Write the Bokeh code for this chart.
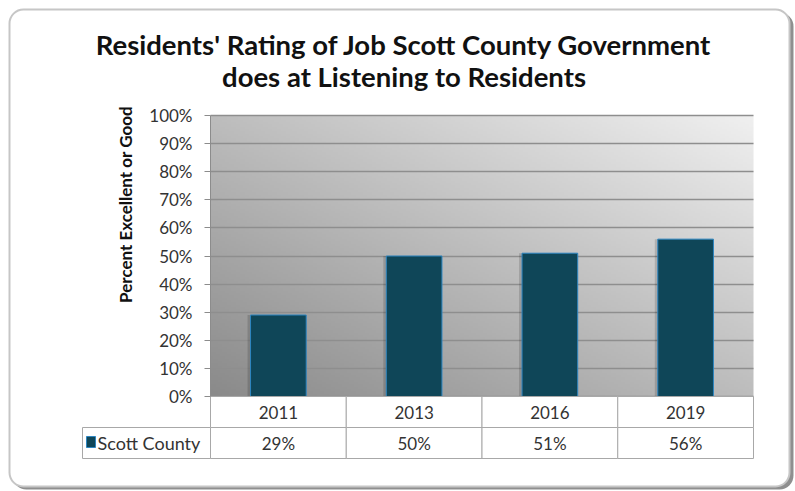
import numpy as np
from bokeh.plotting import figure
from bokeh.models import (Range1d, LinearAxis, Grid, FixedTicker, PrintfTickFormatter,
                          Label, BoxAnnotation, ColumnDataSource)
from bokeh.embed import file_html
from bokeh.resources import INLINE
from bokeh.core.properties import value

# ---- data ----
years = ["2011", "2013", "2016", "2019"]
values = [29, 50, 51, 56]
series_name = "Scott County"
title_lines = ["Residents' Rating of Job Scott County Government",
               "does at Listening to Residents"]
y_title = "Percent Excellent or Good"
y_ticks = list(range(0, 101, 10))

# ---- layout constants (page pixels -> data units) ----
W, H = 795, 491
PAGE0 = 0                      # page offset of the canvas (template has no margin)
X0, XPX = 210, 135.75          # page x of category slot 0, pixels per slot
Y0, YPX = 396, 2.81            # page y of 0 %, pixels per percent
def dx(px):                    # page x -> data x
    return (px - X0) / XPX
def dy(py):                    # page y -> data y
    return (Y0 - py) / YPX
ROW_H = 31 / YPX
BAR_FILL = "#0f4658"
BAR_LINE = "#2e86c1"
GRID = "#8e8e8e"
TABLE_LINE = "#a8a8a8"
TXT = "#333333"
FONT = "Lato"

p = figure(width=W, height=H,
           x_range=Range1d(dx(PAGE0), dx(PAGE0 + W)),
           y_range=Range1d(dy(PAGE0 + H), dy(PAGE0)),
           output_backend="svg", toolbar_location=None,
           x_axis_type=None, y_axis_type=None,
           min_border=0)
p.outline_line_color = None
p.background_fill_color = "white"
p.border_fill_color = "white"

# outer rounded chart border with shadow
p.add_layout(BoxAnnotation(left=dx(12), right=dx(793), top=dy(12), bottom=dy(489),
                           fill_color="#8f8f8f", fill_alpha=1, line_color=None,
                           border_radius=14, level="image"))
p.add_layout(BoxAnnotation(left=dx(9), right=dx(789), top=dy(9), bottom=dy(486),
                           fill_color="white", fill_alpha=1, line_color="#c6c6c6",
                           line_width=2, line_alpha=1, border_radius=14,
                           level="image"))

n = len(years)
xc = [i + 0.5 for i in range(n)]

# gradient plot-area background
nx, ny = 240, 120
u = np.linspace(0, 1, nx)[None, :]
v = np.linspace(0, 1, ny)[:, None]
g = (0x8a + (0xf0 - 0x8a) * (u + v) / 2).astype(np.uint32)
img = (np.uint32(255) << 24) | (g << 16) | (g << 8) | g
p.image_rgba(image=[img], x=0, y=0, dw=n, dh=100, level="underlay")

src = ColumnDataSource(dict(x=xc, year=years, val=values,
                            label=[f"{v}%" for v in values],
                            xs=[c - 3 / XPX for c in xc]))

# y axis at the plot-area edge, grid limited to the plot area
ax = LinearAxis(fixed_location=0, bounds=(0, 100),
                ticker=FixedTicker(ticks=y_ticks),
                formatter=PrintfTickFormatter(format="%d%%"))
ax.major_tick_out = 6
ax.major_tick_in = 0
ax.minor_tick_out = 0
ax.minor_tick_in = 0
ax.axis_line_color = "#8c8c8c"
ax.major_tick_line_color = "#8c8c8c"
ax.major_label_text_font = FONT
ax.major_label_text_font_size = "17px"
ax.major_label_text_color = TXT
ax.major_label_standoff = 12
p.add_layout(ax, "left")
p.add_layout(Grid(dimension=1, ticker=ax.ticker, bounds=(0, 100),
                  cross_bounds=(0, n), grid_line_color=GRID,
                  grid_line_width=1.5))

# bars (with soft shadow)
p.vbar(x="xs", top="val", bottom=0, width=0.41, source=src,
       fill_color="black", fill_alpha=0.15, line_color=None)
p.vbar(x="x", top="val", bottom=0, width=0.41, source=src,
       fill_color=BAR_FILL, line_color=BAR_LINE, line_width=1)

# data table
for yc in (-ROW_H / 2, -1.5 * ROW_H):
    p.rect(x="x", y=yc, width=1, height=ROW_H, source=src,
           fill_color="white", line_color=TABLE_LINE, line_width=1)
p.quad(left=dx(82), right=0, top=-ROW_H, bottom=-2 * ROW_H,
       fill_color="white", line_color=TABLE_LINE, line_width=1)
p.quad(left=dx(86), right=dx(95), top=dy(436), bottom=dy(447),
       fill_color=BAR_FILL, line_color=BAR_LINE, line_width=1)
p.text(x="x", y=-ROW_H / 2, text="year", source=src, text_align="center",
       text_baseline="middle", text_font=value(FONT), text_font_size="17px",
       text_color=TXT)
p.text(x="x", y=-1.5 * ROW_H, text="label", source=src, text_align="center",
       text_baseline="middle", text_font=value(FONT), text_font_size="17px",
       text_color=TXT)
p.add_layout(Label(x=dx(97), y=-1.5 * ROW_H, text=series_name,
                   text_align="left", text_baseline="middle",
                   text_font=FONT, text_font_size="18px", text_color=TXT))

# titles
for line, pym in zip(title_lines, [44, 76]):
    p.add_layout(Label(x=dx(403.5), y=dy(pym), text=line,
                       text_align="center", text_baseline="middle",
                       text_font=FONT, text_font_style="bold",
                       text_font_size="27.5px", text_color="#111111"))
p.add_layout(Label(x=dx(125), y=dy(204), text=y_title, angle=np.pi / 2,
                   text_align="center", text_baseline="middle",
                   text_font=FONT, text_font_style="bold",
                   text_font_size="17px", text_color="#111111"))

open("out.html", "w").write(file_html(p, INLINE))
